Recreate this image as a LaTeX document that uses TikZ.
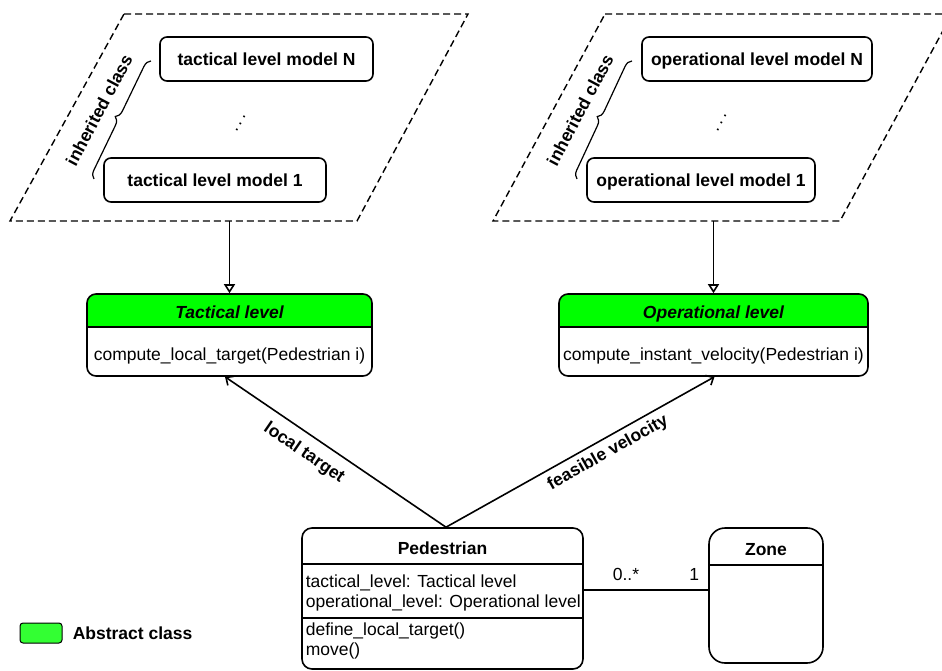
\documentclass[tikz,border=0pt]{standalone}
\usepackage{fontspec}
\setmainfont{Liberation Sans}
\usetikzlibrary{arrows.meta,decorations.pathreplacing,calc}
\definecolor{absgreen}{HTML}{00FF00}
\definecolor{leggreen}{HTML}{33FF33}
\tikzset{
  txt/.style={font=\fontsize{17.5}{21}\selectfont, inner sep=0pt},
  boldtxt/.style={font=\fontsize{17.5}{21}\selectfont\bfseries, inner sep=0pt},
  dashpar/.style={line width=1.4pt, dash pattern=on 7pt off 4pt},
  modelbox/.style={draw, rounded corners=7pt, minimum height=44pt, inner sep=0pt,
    font=\fontsize{17.5}{21}\selectfont\bfseries, text height=12.5pt, text depth=0pt},
  classbox/.style={draw, rounded corners=9pt, inner sep=0pt},
  inherit/.style={-{Triangle[open,length=9pt,width=11pt]}},
  assoc/.style={-{Straight Barb[length=6pt,width=11pt]}},
  bracedeco/.style={decorate, decoration={brace, amplitude=8pt}, line width=1.2pt},
}
\begin{document}
\begin{tikzpicture}[x=1pt,y=-1pt,line width=1.6pt]
\useasboundingbox (0,0) rectangle (942,671);
% dashed containers
\begin{scope}
\clip (0,0) rectangle (942,671);
\draw[dashpar] (124,14) -- (468,14) -- (357,221) -- (10,221) -- cycle;
\draw[dashpar] (605,14) -- (952,14) -- (840,221) -- (493,221) -- cycle;
\end{scope}

% inherited model boxes
\node[modelbox, minimum width=213pt] (tN) at (266.5,59) {tactical level model N};
\node[modelbox, minimum width=222pt] (t1) at (215,180) {tactical level model 1};
\node[modelbox, minimum width=230pt] (oN) at (757,59) {operational level model N};
\node[modelbox, minimum width=228pt] (o1) at (701,180) {operational level model 1};

\node[txt, rotate=62] (tdots) at (240.5,123.5) {.\,.\,.};
\node[txt, rotate=62] (odots) at (721.5,123) {.\,.\,.};

\draw[bracedeco] (94,179) -- (151,61);
\draw[bracedeco] (577,179) -- (632,61);
\node[boldtxt, rotate=62] (tinh) at (99,110) {inherited class};
\node[boldtxt, rotate=62] (oinh) at (580,110) {inherited class};

% Tactical level class
\begin{scope}
\clip (87,294) rectangle (372,327);
\fill[absgreen, rounded corners=9pt] (87,294) rectangle (372,376);
\end{scope}
\node[classbox, minimum width=285pt, minimum height=82pt] (tac) at (229.5,335) {};
\draw (tac.west |- 0,327) -- (tac.east |- 0,327);
\node[boldtxt, anchor=base] (tach) at (229.5,318) {\itshape Tactical level};
\node[txt, anchor=base] (tacb) at (229.5,360) {compute\_local\_target(Pedestrian i)};

% Operational level class
\begin{scope}
\clip (559,294) rectangle (868,327);
\fill[absgreen, rounded corners=9pt] (559,294) rectangle (868,376);
\end{scope}
\node[classbox, minimum width=309pt, minimum height=82pt] (op) at (713.5,335) {};
\draw (op.west |- 0,327) -- (op.east |- 0,327);
\node[boldtxt, anchor=base] (oph) at (713.5,318) {\itshape Operational level};
\node[txt, anchor=base] (opb) at (713.5,360) {compute\_instant\_velocity(Pedestrian i)};

% inheritance arrows
\coordinate (tbot) at (229.5,221);
\coordinate (obot) at (713.5,221);
\draw[inherit] (tbot) -- (tac.north);
\draw[inherit] (obot) -- (op.north);

% Pedestrian class
\node[classbox, rounded corners=10pt, minimum width=281pt, minimum height=141pt] (ped) at (442.5,598.5) {};
\draw (ped.west |- 0,564) -- (ped.east |- 0,564);
\draw (ped.west |- 0,618) -- (ped.east |- 0,618);
\node[boldtxt, anchor=base] (pedh) at (442.5,554) {Pedestrian};
\node[txt, anchor=base west] (pa1) at (305,587) {tactical\_level: Tactical level};
\node[txt, anchor=base west] (pa2) at (305,607) {operational\_level: Operational level};
\node[txt, anchor=base west] (pm1) at (305,635) {define\_local\_target()};
\node[txt, anchor=base west] (pm2) at (305,655) {move()};

% Zone class
\node[classbox, rounded corners=16pt, minimum width=114pt, minimum height=135pt] (zone) at (766,595.5) {};
\draw (zone.west |- 0,565) -- (zone.east |- 0,565);
\node[boldtxt, anchor=base] (zoneh) at (766,555) {Zone};

% association Pedestrian - Zone
\draw (ped.east |- 0,590) -- (zone.west |- 0,590);
\node[txt, anchor=base west] (m0) at (612,580) {0..*};
\node[txt, anchor=base east] (m1) at (700,580) {1};

% navigation arrows
\draw[assoc] ([xshift=3.5pt]ped.north) -- ([xshift=-4.5pt]tac.south);
\draw[assoc] ([xshift=3.5pt]ped.north) -- ([xshift=1pt]op.south);
\node[boldtxt, rotate=-34.5] (lt) at (304,453) {local target};
\node[boldtxt, rotate=29.5] (fv) at (608,453) {feasible velocity};

% legend
\node[draw, fill=leggreen, rounded corners=3pt, minimum width=42pt, minimum height=20pt, line width=1pt] (leg) at (41,633) {};
\node[boldtxt, anchor=base west] (legt) at (72,639) {Abstract class};
\end{tikzpicture}
\end{document}
